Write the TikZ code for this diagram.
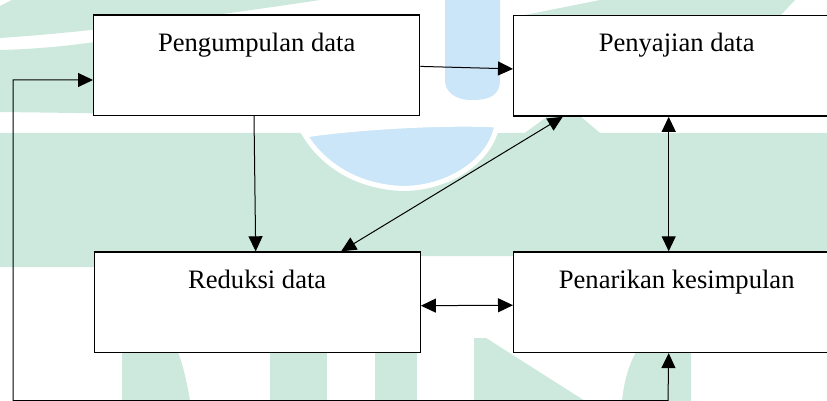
\documentclass[tikz,border=0pt]{standalone}
\usepackage{fontspec}
\setmainfont{Liberation Serif}
\usetikzlibrary{arrows.meta,calc}

\definecolor{wmgreen}{RGB}{205,233,221}
\definecolor{wmblue}{RGB}{202,230,248}

\tikzset{
  box/.style={draw, line width=1.4pt, fill=white, anchor=north west,
    minimum width=326pt, inner sep=0pt, text height=36.3pt, text depth=64.1pt,
    font=\fontsize{26.6}{32}\selectfont},
  arr/.style={-{Triangle[length=15pt,width=14pt]}, line width=1pt},
  dblarr/.style={{Triangle[length=15pt,width=14pt]}-{Triangle[length=15pt,width=14pt]}, line width=1pt},
}

\begin{document}
\begin{tikzpicture}[x=1pt,y=-1pt]
    \clip (0,0) rectangle (827,401);
    \fill[white] (0,0) rectangle (827,401);

    % watermark in the background
    \fill[wmgreen] (12,0) -- (320,0) .. controls (200,18) and (90,32) .. (0,38) -- (0,6) -- cycle;
    \fill[wmgreen] (0,50) .. controls (40,49) and (80,45) .. (120,38) -- (120,114) .. controls (80,113) .. (0,112) -- cycle;
    \fill[wmgreen] (520,16) -- (600,0) -- (795,0) -- (780,16) -- cycle;
    \fill[wmgreen] (0,133) -- (827,133) -- (827,256) -- (95,256) -- (95,267) -- (0,267) -- cycle;
    \fill[wmgreen] (515,140) -- (548,116) -- (580,116) -- (600,133) -- cycle;
    \fill[wmblue] (445,0) -- (500,0) -- (500,80) .. controls (500,95) and (490,100) .. (472,100) .. controls (455,100) and (445,92) .. (445,80) -- cycle;
    \fill[wmblue, draw=white, line width=5pt] (305,135) .. controls (350,128) and (440,122) .. (497,125) .. controls (490,165) and (440,192) .. (395,188) .. controls (350,184) and (320,160) .. cycle;
    \fill[wmgreen] (122,300) -- (122,401) -- (190,401) .. controls (186,375) and (180,355) .. (170,330) -- cycle;
    \fill[wmgreen] (270,300) rectangle (327,401);
    \fill[wmgreen] (375,300) rectangle (417,401);
    \fill[wmgreen] (474,338) -- (486,338) -- (585,401) -- (474,401) -- cycle;
    \fill[wmgreen] (691,300) -- (691,401) -- (622,401) .. controls (625,370) and (635,350) .. (650,330) -- cycle;

    \node[box] (kumpul) at (93,14.3) {Pengumpulan data};
    \node[box] (saji) at (513,15) {Penyajian data};
    \node[box] (reduksi) at (93.5,251.3) {Reduksi data};
    \node[box] (tarik) at (513,251.3) {Penarikan kesimpulan};

    \coordinate (sudutL) at (13,400.5);
    \coordinate (sudutR) at (668,400.5);

    \draw[arr] ($(kumpul.east)+(0,1.2)$) -- ($(saji.west)+(0,3)$);
    \draw[arr] ($(kumpul.south)+(-2.7,0)$) -- ($(reduksi.north)+(-1.5,0)$);
    \draw[dblarr] ($(reduksi.north)+(84,0)$) -- ($(saji.south)+(-114,0)$);
    \draw[dblarr] ($(saji.south)+(-8,0)$) -- ($(tarik.north)+(-8,0)$);
    \draw[dblarr] ($(reduksi.east)+(0,3.5)$) -- ($(tarik.west)+(0,3)$);
    \draw[dblarr] ($(tarik.south)+(-8,0)$) -- (sudutR) -- (sudutL) |- ($(kumpul.west)+(0,14.8)$);
\end{tikzpicture}
\end{document}
